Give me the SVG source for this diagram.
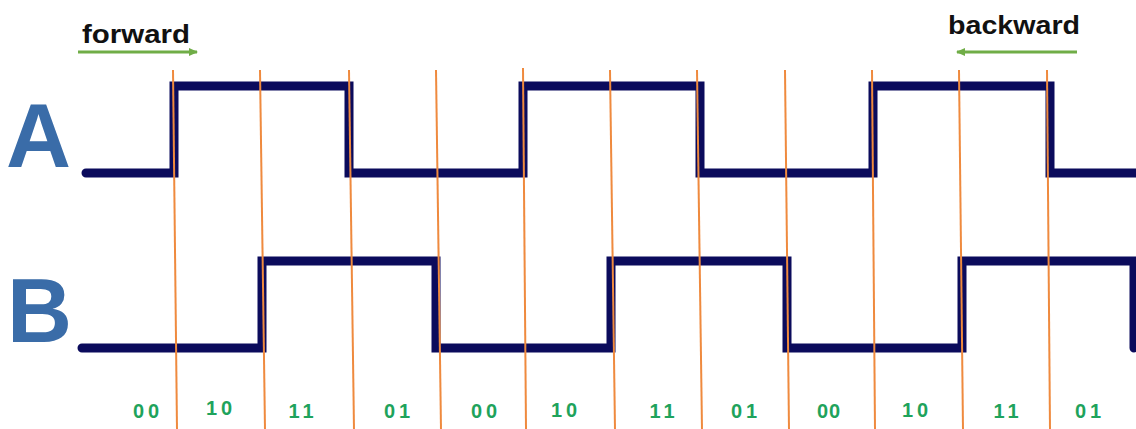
<svg xmlns="http://www.w3.org/2000/svg" width="1136" height="429" viewBox="0 0 1136 429">
  <style>
    .wave { fill: none; stroke: #0b0b5c; stroke-width: 9; stroke-linejoin: miter; stroke-linecap: round; }
    .tick { stroke: #ef8a3e; stroke-width: 2; }
    .arrow { stroke: #70ad47; stroke-width: 3; fill: none; }
    .big { font-family: "Liberation Sans", Arial, sans-serif; font-weight: bold; font-size: 90px; fill: #3a6ca8; }
    .dir { font-family: "Liberation Sans", Arial, sans-serif; font-weight: bold; font-size: 25px; fill: #111111; }
    .code { font-family: "Liberation Sans", Arial, sans-serif; font-weight: bold; font-size: 20px; fill: #1fa35c; letter-spacing: 4px; text-anchor: middle; }
  </style>
  <defs>
    <marker id="ah" markerWidth="10" markerHeight="10" refX="8" refY="5" orient="auto" markerUnits="userSpaceOnUse">
      <path d="M0,1 L9,5 L0,9 Z" fill="#70ad47"/>
    </marker>
  </defs>
  <rect width="1136" height="429" fill="#ffffff"/>

  <g id="label-forward">
    <text class="dir" x="82" y="43" textLength="108" lengthAdjust="spacingAndGlyphs">forward</text>
    <line class="arrow" x1="78" y1="52" x2="197" y2="52" marker-end="url(#ah)"/>
  </g>
  <g id="label-backward">
    <text class="dir" x="948" y="34" textLength="132" lengthAdjust="spacingAndGlyphs">backward</text>
    <line class="arrow" x1="1077" y1="52" x2="957" y2="52" marker-end="url(#ah)"/>
  </g>

  <g id="signal-A">
    <text class="big" x="6" y="167">A</text>
    <path class="wave" d="M86,173 H174 V86 H349 V173 H523 V86 H700 V173 H873 V86 H1050 V173 H1140"/>
  </g>
  <g id="signal-B">
    <text class="big" x="7" y="342">B</text>
    <path class="wave" d="M82,348 H262 V261 H436 V348 H611 V261 H787 V348 H962 V261 H1134 V348"/>
  </g>

  <g id="connectors">
    <line class="tick" x1="173" y1="70" x2="177" y2="429"/>
    <line class="tick" x1="260" y1="70" x2="265" y2="429"/>
    <line class="tick" x1="349" y1="70" x2="354" y2="429"/>
    <line class="tick" x1="436" y1="70" x2="441" y2="429"/>
    <line class="tick" x1="523" y1="68" x2="526" y2="429"/>
    <line class="tick" x1="610" y1="70" x2="615" y2="429"/>
    <line class="tick" x1="697" y1="70" x2="702" y2="429"/>
    <line class="tick" x1="785" y1="70" x2="789" y2="429"/>
    <line class="tick" x1="872" y1="70" x2="875" y2="429"/>
    <line class="tick" x1="959" y1="70" x2="963" y2="429"/>
    <line class="tick" x1="1047" y1="70" x2="1050" y2="429"/>
  </g>

  <g id="codes">
    <text class="code" x="148" y="418">00</text>
    <text class="code" x="221" y="415">10</text>
    <text class="code" x="303" y="418">11</text>
    <text class="code" x="399" y="418">01</text>
    <text class="code" x="486" y="418">00</text>
    <text class="code" x="566" y="417">10</text>
    <text class="code" x="664" y="418">11</text>
    <text class="code" x="746" y="418">01</text>
    <text class="code" x="829" y="418" style="letter-spacing:1px">00</text>
    <text class="code" x="917" y="417">10</text>
    <text class="code" x="1008" y="418">11</text>
    <text class="code" x="1090" y="418">01</text>
  </g>
</svg>
